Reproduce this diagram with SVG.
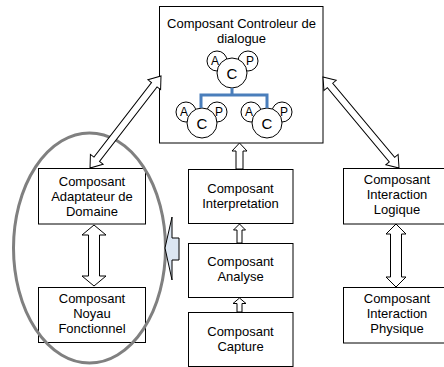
<svg xmlns="http://www.w3.org/2000/svg" width="444" height="367" viewBox="0 0 444 367">
<style>
.box{fill:#fff;stroke:#000;stroke-width:1}
.t{font-family:"Liberation Sans",Arial,sans-serif;font-size:13px;fill:#000;text-anchor:middle}
.c{fill:#fff;stroke:#000;stroke-width:1}
.cl{font-family:"Liberation Sans",Arial,sans-serif;fill:#000;text-anchor:middle}
.arr{fill:#fff;stroke:#000;stroke-width:1;stroke-linejoin:miter}
</style>
<rect width="444" height="367" fill="#fff"/>
<g id="controleur">
<rect class="box" x="159.5" y="6.5" width="163.5" height="136.5"/>
<text class="t" x="241.5" y="28">Composant Controleur de</text>
<text class="t" x="241.5" y="43">dialogue</text>
<circle class="c" cx="217" cy="61" r="10"/><circle class="c" cx="248" cy="61" r="10"/><circle class="c" cx="232" cy="73" r="15"/>
<text class="cl" x="215" y="65" font-size="12">A</text><text class="cl" x="250" y="65" font-size="12">P</text><text class="cl" x="232" y="79" font-size="15">C</text>
<circle class="c" cx="186" cy="112" r="10"/><circle class="c" cx="217" cy="112" r="10"/><circle class="c" cx="202" cy="123" r="15"/>
<text class="cl" x="184" y="116" font-size="12">A</text><text class="cl" x="219" y="116" font-size="12">P</text><text class="cl" x="202" y="129" font-size="15">C</text>
<circle class="c" cx="251" cy="112" r="10"/><circle class="c" cx="282" cy="112" r="10"/><circle class="c" cx="267" cy="123" r="15"/>
<text class="cl" x="249" y="116" font-size="12">A</text><text class="cl" x="284" y="116" font-size="12">P</text><text class="cl" x="267" y="129" font-size="15">C</text>
<path d="M201,108 V95 H267 V108 M232,95 V88" fill="none" stroke="#4a7ebb" stroke-width="3"/>
</g>
<g id="adaptateur">
<rect class="box" x="38.5" y="168.5" width="107" height="55.5"/>
<text class="t" x="92" y="186">Composant</text>
<text class="t" x="92" y="201">Adaptateur de</text>
<text class="t" x="92" y="216">Domaine</text>
</g>
<g id="noyau">
<rect class="box" x="38.5" y="287.5" width="107" height="55"/>
<text class="t" x="92" y="303">Composant</text>
<text class="t" x="92" y="318">Noyau</text>
<text class="t" x="92" y="333">Fonctionnel</text>
</g>
<g id="interpretation">
<rect class="box" x="188.5" y="169.5" width="104.5" height="54"/>
<text class="t" x="240.5" y="193">Composant</text>
<text class="t" x="240.5" y="208">Interpretation</text>
</g>
<g id="analyse">
<rect class="box" x="188.5" y="243.5" width="104.5" height="54"/>
<text class="t" x="240.5" y="266">Composant</text>
<text class="t" x="240.5" y="281">Analyse</text>
</g>
<g id="capture">
<rect class="box" x="188.5" y="312.5" width="104.5" height="54"/>
<text class="t" x="240.5" y="336">Composant</text>
<text class="t" x="240.5" y="351">Capture</text>
</g>
<g id="logique">
<rect class="box" x="343.5" y="168.5" width="107" height="55.5"/>
<text class="t" x="397" y="184">Composant</text>
<text class="t" x="397" y="199">Interaction</text>
<text class="t" x="397" y="214">Logique</text>
</g>
<g id="physique">
<rect class="box" x="343.5" y="287.5" width="107" height="55.5"/>
<text class="t" x="397" y="303">Composant</text>
<text class="t" x="397" y="318">Interaction</text>
<text class="t" x="397" y="333">Physique</text>
</g>
<g id="groupe">
<ellipse cx="89.5" cy="248" rx="76" ry="115" fill="none" stroke="#808080" stroke-width="3"/>
<path d="M165,248 L172,217 L172,238 L179,238 L179,260 L172,260 L172,280 Z" fill="#dce6f2" stroke="#000" stroke-width="1"/>
</g>
<g id="connectors">
<path class="arr" transform="translate(161,76) rotate(127.65)" d="M0,0 L11,-8 L11,-3.5 L105.2,-3.5 L105.2,-8 L116.2,0 L105.2,8 L105.2,3.5 L11,3.5 L11,8 Z"/>
<path class="arr" transform="translate(323,77) rotate(50.13)" d="M0,0 L11,-8 L11,-3.5 L107.6,-3.5 L107.6,-8 L118.6,0 L107.6,8 L107.6,3.5 L11,3.5 L11,8 Z"/>
<path class="arr" d="M94,225 L106,235 L99.5,235 L99.5,276 L106,276 L94,286 L82,276 L88.5,276 L88.5,235 L82,235 Z"/>
<path class="arr" d="M396,224 L406,234 L401.5,234 L401.5,277 L406,277 L396,287 L386,277 L390.5,277 L390.5,234 L386,234 Z"/>
<path class="arr" d="M239.5,143 L247,151 L243,151 L243,169 L236,169 L236,151 L232,151 Z"/>
<path class="arr" d="M239.5,224 L245.5,230 L242,230 L242,243 L237,243 L237,230 L233.5,230 Z"/>
<path class="arr" d="M239.5,298 L246,303.5 L242,303.5 L242,312 L237,312 L237,303.5 L233,303.5 Z"/>
</g>
</svg>
